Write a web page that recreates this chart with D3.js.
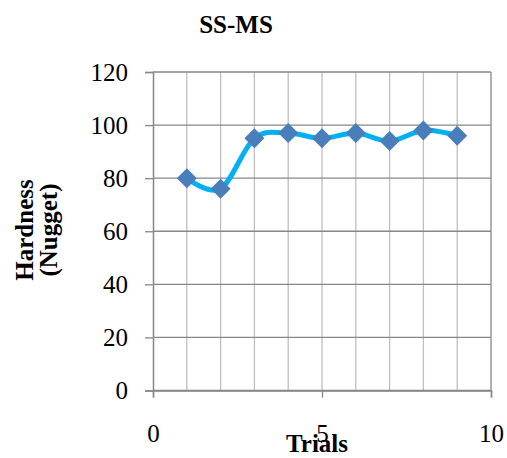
<!DOCTYPE html>
<html><head><meta charset="utf-8">
<script src="https://cdn.jsdelivr.net/npm/d3@7"></script>
<style>body{margin:0;background:#fff}svg{display:block}text{font-family:"Liberation Serif","Times New Roman",serif;fill:#000}</style>
</head><body>
<script>
const trials = [1,2,3,4,5,6,7,8,9];
const hardness = [80,76,95,97,95,97,94,98,96];
const yTicks = [0,20,40,60,80,100,120];
const xTicks = [0,5,10];
const xMinor = [1,2,3,4,5,6,7,8,9];
const title = "SS-MS";
const xLabel = "Trials";
const yLabelLines = ["Hardness","(Nugget)"];

const W=507,H=458;
const svg=d3.select("body").append("svg").attr("width",W).attr("height",H);
const x=d3.scaleLinear().domain([0,10]).range([153,491]);
const y=d3.scaleLinear().domain([0,120]).range([390.5,72]);

// vertical minor gridlines
svg.append("g").selectAll("line").data(xMinor).join("line")
  .attr("x1",d=>x(d)).attr("x2",d=>x(d)).attr("y1",y(0)).attr("y2",y(120))
  .attr("stroke","#c0c0c0").attr("stroke-width",1.3);
// horizontal gridlines
svg.append("g").selectAll("line").data(yTicks).join("line")
  .attr("x1",x(0)).attr("x2",x(10)).attr("y1",d=>y(d)).attr("y2",d=>y(d))
  .attr("stroke","#878787").attr("stroke-width",1.3);
// right border
svg.append("line").attr("x1",x(10)).attr("x2",x(10)).attr("y1",y(0)).attr("y2",y(120))
  .attr("stroke","#878787").attr("stroke-width",1.3);

// y axis
const ya=svg.append("g").attr("transform",`translate(${x(0)},0)`)
  .call(d3.axisLeft(y).tickValues(yTicks).tickSize(8).tickPadding(17));
ya.select(".domain").attr("stroke","#878787").attr("stroke-width",1.5);
ya.selectAll(".tick line").attr("stroke","#878787").attr("stroke-width",1.3);
ya.selectAll("text").style("font-size","25px").attr("font-family","Liberation Serif");

// x axis
const xa=svg.append("g").attr("transform",`translate(0,${y(0)})`)
  .call(d3.axisBottom(x).tickValues(xTicks).tickSize(7).tickPadding(27));
xa.select(".domain").attr("stroke","#878787").attr("stroke-width",1.5);
xa.selectAll(".tick line").attr("stroke","#878787").attr("stroke-width",1.3);
xa.selectAll("text").style("font-size","25px").attr("font-family","Liberation Serif");

// line
const line=d3.line().x((d,i)=>x(trials[i])).y(d=>y(d)).curve(d3.curveCardinal.tension(0));
svg.append("path").datum(hardness).attr("d",line).attr("fill","none")
  .attr("stroke","#00b0f0").attr("stroke-width",5).attr("stroke-linejoin","round");

// diamonds
svg.append("g").selectAll("path").data(hardness).join("path")
  .attr("transform",(d,i)=>`translate(${x(trials[i])},${y(d)})`)
  .attr("d","M0,-10L10,0L0,10L-10,0Z").attr("fill","#4a7ebb");

// title
svg.append("text").attr("x",236).attr("y",33).attr("text-anchor","middle")
  .style("font-size","25px").style("font-weight","bold").text(title);
// x label
svg.append("text").attr("x",317).attr("y",452).attr("text-anchor","middle")
  .style("font-size","25px").style("font-weight","bold").text(xLabel);
// y label
const yl=svg.append("text").attr("transform","translate(33,230) rotate(-90)").attr("text-anchor","middle")
  .style("font-size","25px").style("font-weight","bold");
yLabelLines.forEach((t,i)=>yl.append("tspan").attr("x",0).attr("dy",i?24:0).text(t));
</script>
</body></html>
